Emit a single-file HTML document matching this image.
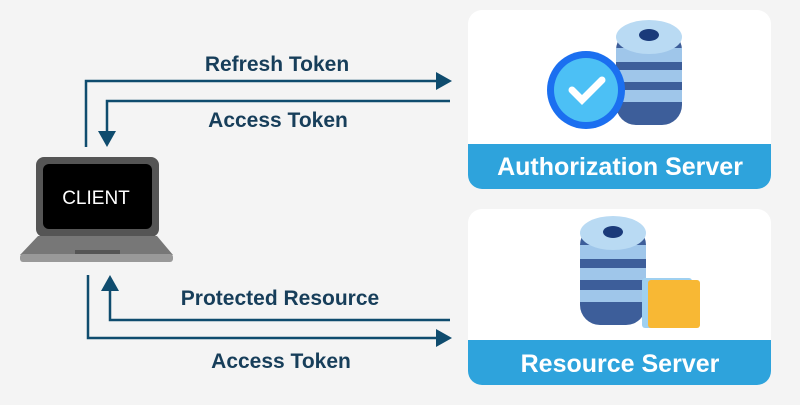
<!DOCTYPE html>
<html><head><style>
body{margin:0;width:800px;height:400px;background:#f4f4f4;overflow:hidden;font-family:"Liberation Sans",sans-serif}
</style></head><body>
<svg width="800" height="400" viewBox="0 0 800 400" xmlns="http://www.w3.org/2000/svg">
<rect width="800" height="400" fill="#f4f4f4"/>
<g stroke="#0f4c6e" stroke-width="2.5" fill="none">
<polyline points="86,147 86,81 438,81"/>
<polyline points="450,101 107,101 107,134"/>
<polyline points="88,275 88,338 438,338"/>
<polyline points="450,320 110,320 110,288"/>
</g>
<g fill="#0f4c6e">
<polygon points="452,81 436,72 436,90"/>
<polygon points="107,147 98,131 116,131"/>
<polygon points="452,338 436,329 436,347"/>
<polygon points="110,275 101,291 119,291"/>
</g>
<g font-size="21" font-weight="bold" fill="#173e5a" text-anchor="middle">
<text x="277" y="71">Refresh Token</text>
<text x="278" y="127">Access Token</text>
<text x="280" y="305">Protected Resource</text>
<text x="281" y="368">Access Token</text>
</g>
<!-- laptop -->
<rect x="36" y="157" width="123" height="80" rx="8" fill="#555"/>
<rect x="43" y="164" width="109" height="65" rx="6" fill="#000"/>
<text x="96" y="204" font-size="19" fill="#fff" text-anchor="middle">CLIENT</text>
<polygon points="38,236 157,236 173,255 20,255" fill="#777"/>
<rect x="20" y="254" width="153" height="8" rx="3" fill="#999"/>
<rect x="75" y="250" width="45" height="4" fill="#555"/>
<!-- auth card -->
<rect x="468" y="10" width="303" height="179" rx="14" fill="#fff"/>
<path d="M468,144 H771 V175 a14,14 0 0 1 -14,14 H482 a14,14 0 0 1 -14,-14 Z" fill="#2ea3dc"/>
<text x="620" y="175" font-size="25" font-weight="bold" fill="#fff" text-anchor="middle">Authorization Server</text>
<g>
<rect x="616" y="30" width="66" height="95" rx="20" fill="#3d5e9a"/>
<rect x="616" y="48" width="66" height="14" fill="#9fc6ea"/>
<rect x="616" y="70" width="66" height="12" fill="#9fc6ea"/>
<rect x="616" y="90" width="66" height="12" fill="#9fc6ea"/>
<ellipse cx="649" cy="37" rx="33" ry="17" fill="#b9daf3"/>
<ellipse cx="649" cy="35" rx="10" ry="6" fill="#1a3a7a"/>
</g>
<circle cx="586" cy="90" r="39" fill="#1b6ff0"/>
<circle cx="586" cy="90" r="32" fill="#4cc0f5"/>
<polyline points="572,90 582,100 602,80" stroke="#fff" stroke-width="7" fill="none" stroke-linecap="round"/>
<!-- resource card -->
<rect x="468" y="209" width="303" height="176" rx="14" fill="#fff"/>
<path d="M468,340 H771 V371 a14,14 0 0 1 -14,14 H482 a14,14 0 0 1 -14,-14 Z" fill="#2ea3dc"/>
<text x="620" y="372" font-size="25" font-weight="bold" fill="#fff" text-anchor="middle">Resource Server</text>
<g>
<rect x="580" y="225" width="66" height="100" rx="20" fill="#3d5e9a"/>
<rect x="580" y="245" width="66" height="14" fill="#9fc6ea"/>
<rect x="580" y="268" width="66" height="12" fill="#9fc6ea"/>
<rect x="580" y="290" width="66" height="12" fill="#9fc6ea"/>
<ellipse cx="613" cy="233" rx="33" ry="17" fill="#b9daf3"/>
<ellipse cx="613" cy="232" rx="10" ry="6" fill="#1a3a7a"/>
</g>
<rect x="642" y="278" width="50" height="50" rx="3" fill="#9fd0f0"/>
<rect x="648" y="280" width="52" height="48" rx="3" fill="#f8b834"/>
</svg>
</body></html>
